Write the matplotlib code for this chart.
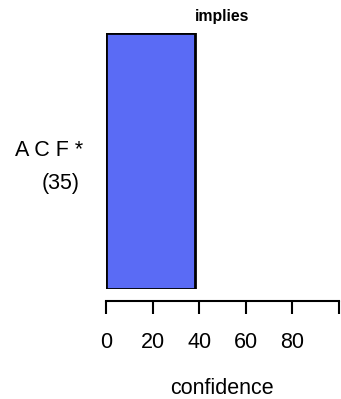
import matplotlib
matplotlib.use("Agg")
import matplotlib.pyplot as plt

# datos de la regla
reglas = ["A C F *"]
soporte = ["(35)"]
confianza = [38.2]
ticks = [0, 20, 40, 60, 80, 100]
etiquetas = ["0", "20", "40", "60", "80", ""]

plt.rcParams['font.family'] = ['Liberation Sans', 'DejaVu Sans']

fig = plt.figure(figsize=(3.41, 3.99), dpi=100)
ax = fig.add_axes([106 / 341, (399 - 289) / 399, 233 / 341, 256 / 399])

ax.barh([0], confianza, height=1.0, left=0, color="#5a6bf5",
        edgecolor="black", linewidth=2, align="center")
ax.set_xlim(0, 100)
ax.set_ylim(-0.5, 0.5)

for s in ["top", "right", "left"]:
    ax.spines[s].set_visible(False)
ax.spines["bottom"].set_position(("outward", 8.5))
ax.spines["bottom"].set_bounds(0, 100)
ax.spines["bottom"].set_linewidth(1.5)
ax.set_yticks([])
ax.set_xticks(ticks)
ax.set_xticklabels(etiquetas, fontsize=15.5)
ax.tick_params(axis="x", length=9.4, width=1.5, pad=13)

fig.text(222 / 341, 1 - 17 / 399, "implies", ha="center", va="center",
         fontsize=11.4, fontweight="bold")
fig.text(83 / 341, 1 - 150 / 399, reglas[0], ha="right", va="center", fontsize=15.5)
fig.text(80 / 341, 1 - 184 / 399, soporte[0], ha="right", va="center", fontsize=15.5)
fig.text(222 / 341, 1 - 388 / 399, "confidence", ha="center", va="center", fontsize=15.5)

fig.savefig("out.png", dpi=100)
